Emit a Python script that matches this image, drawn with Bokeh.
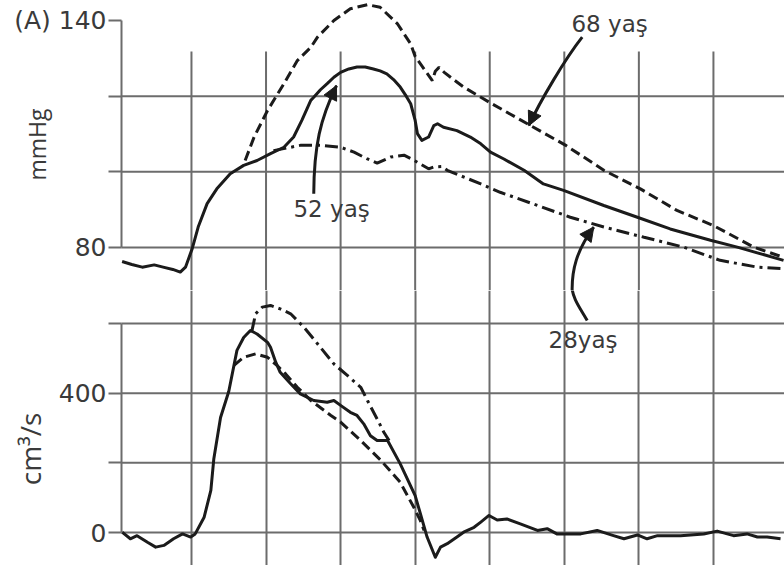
import math
from bokeh.plotting import figure
from bokeh.layouts import column
from bokeh.models import FixedTicker, Range1d, Label, Arrow, NormalHead
from bokeh.embed import file_html
from bokeh.resources import INLINE

# ---------------- data (time in ms) ----------------
GRID_T = [100, 200, 300, 400, 500, 600, 700, 800]
P_TICKS = [80, 100, 120, 140]
P_GRID = [80, 100, 120]
Q_TICKS = [0, 200, 400, 600]

# pressure, 52 years (solid)
T_P52 = [7, 20, 34, 50, 62, 75, 85, 92, 101, 109, 121, 134, 152, 170, 188, 206, 224, 237, 248, 260,
         264, 273, 282, 291, 300, 311, 322, 333, 344, 353, 362, 371, 380, 388, 394, 400, 403, 409, 418, 425,
         430, 438, 456, 474, 488, 501, 519, 546, 572, 599, 653, 698, 742, 796, 832, 894]
P_52 = [76.3, 75.5, 74.8, 75.4, 74.8, 74.2, 73.5, 74.8, 79.7, 85.4, 91.6, 95.5, 99.5, 101.7, 103.0, 104.8, 106.5, 109.2, 113.6, 118.9,
        119.7, 121.7, 123.3, 125.0, 126.3, 127.2, 127.7, 127.7, 127.2, 126.7, 125.9, 124.4, 122.4, 120.0, 118.0, 113.6, 110.1, 108.3, 109.2, 112.2,
        112.7, 111.8, 110.9, 109.2, 107.4, 105.2, 103.4, 100.4, 96.8, 95.1, 91.1, 88.0, 84.9, 81.9, 80.1, 76.6]

# pressure, 68 years (dashed)
T_P68 = [172, 184, 202, 224, 242, 260, 269, 291, 313, 336, 353, 376, 394, 400, 423, 427, 432, 439, 450, 465,
         501, 555, 602, 653, 702, 751, 800, 854, 894]
P_68 = [103.0, 109.2, 116.2, 123.3, 129.4, 132.9, 135.6, 140.0, 143.1, 144.2, 143.5, 139.2, 133.8, 130.5, 124.1, 126.6, 127.6, 126.3, 124.6, 122.4,
        118.2, 112.2, 107.0, 100.4, 95.5, 89.8, 85.8, 80.1, 77.4]

# pressure, 28 years (dash-dot)
T_P28 = [210, 246, 273, 300, 318, 336, 349, 367, 385, 398, 418, 425, 436, 443, 488, 514, 564, 608, 653, 707, 760, 809, 859, 894]
P_28 = [105.6, 107.0, 107.0, 106.5, 105.2, 103.4, 102.3, 103.9, 104.4, 103.1, 100.8, 101.3, 101.4, 100.4, 96.8, 94.6, 91.1, 88.0, 85.4, 82.7,
        80.1, 76.6, 74.8, 74.4]

# flow, 52 years (solid)
T_Q52 = [7, 18, 27, 41, 52, 63, 76, 88, 99, 105, 117, 126, 130, 139, 150, 161, 170, 179, 188, 202,
         206, 213, 219, 233, 246, 264, 282, 291, 300, 313, 322, 331, 340, 349, 363, 380, 400, 407, 416, 427,
         434, 443, 456, 465, 479, 488, 499, 510, 523, 541, 564, 577, 590, 622, 644, 666, 680, 698, 711, 725,
         756, 787, 805, 827, 845, 859, 872, 890]
Q_52 = [1, -18, -9, -28, -42, -37, -18, -4, -13, -4, 44, 121, 212, 330, 405, 523, 560, 580, 570, 546,
        532, 489, 460, 427, 398, 379, 374, 379, 365, 345, 336, 312, 278, 264, 264, 197, 106, 54, -13, -71,
        -42, -32, -13, 1, 15, 30, 49, 36, 39, 25, 6, 11, -4, -4, 6, -9, -18, -7, -18, -9,
        -9, -4, 4, -9, -4, -13, -13, -18]

# flow, 68 years (dashed)
T_Q68 = [157, 170, 186, 202, 215, 226, 242, 260, 287, 300, 327, 354, 380, 398, 407, 412]
Q_68 = [480, 503, 513, 503, 479, 456, 417, 379, 336, 317, 264, 207, 144, 73, 34, 6]

# flow, 28 years (dash-dot)
T_Q28 = [181, 186, 195, 206, 219, 233, 251, 269, 291, 309, 327, 336, 349, 358, 365]
Q_28 = [578, 628, 647, 652, 642, 628, 589, 542, 484, 451, 417, 379, 326, 288, 264]

# ---------------- style ----------------
FONT = "DejaVu Sans"
FONT2 = "Open Sans"
TXT = "#3a3a3a"
GRID = "#6c6c6c"
INK = "#1b1b1b"
DASH = "10 5"
DASHDOT = "13 5 3 5"
W = 784
X_RANGE = (-156.1, 895.3)
AXIS_T = 6.17


def make_panel(height, yr, ticks, overrides, bounds, hlines):
    p = figure(width=W, height=height, x_range=Range1d(*X_RANGE), y_range=Range1d(*yr),
               output_backend="svg", toolbar_location=None, x_axis_location=None,
               min_border_left=0, min_border_right=0, min_border_top=0, min_border_bottom=0)
    p.outline_line_color = None
    p.background_fill_color = "white"
    p.border_fill_color = "white"
    ax = p.yaxis[0]
    ax.fixed_location = AXIS_T
    ax.ticker = FixedTicker(ticks=ticks)
    ax.major_label_overrides = overrides
    ax.bounds = bounds
    ax.major_tick_out = 13
    ax.major_tick_in = 0
    ax.minor_tick_line_color = None
    ax.axis_line_color = GRID
    ax.axis_line_width = 2
    ax.major_tick_line_color = GRID
    ax.major_tick_line_width = 2
    ax.major_label_text_font = FONT
    ax.major_label_text_font_size = "25px"
    ax.major_label_text_color = TXT
    ax.major_label_standoff = 2
    p.ygrid.visible = False
    p.segment(x0=[AXIS_T] * len(hlines), y0=hlines, x1=[X_RANGE[1]] * len(hlines), y1=hlines,
              line_color=GRID, line_width=2)
    p.xgrid.ticker = FixedTicker(ticks=GRID_T)
    p.xgrid.grid_line_color = GRID
    p.xgrid.grid_line_width = 2
    return p


def arrow_head(p, xs, ys, xe, ye):
    p.add_layout(Arrow(end=NormalHead(size=14, fill_color=INK, line_color=INK), line_color=INK, line_width=3,
                       x_start=xs, y_start=ys, x_end=xe, y_end=ye))


# ---------------- top panel: pressure ----------------
P_RANGE = (68.63, 145.29)
GRID_TOP = 131.8
top = make_panel(290, P_RANGE, P_TICKS, {100: "", 120: "", 140: "(A) 140"}, (80, 140), P_GRID)
top.xgrid.visible = False
top.segment(x0=GRID_T, y0=[GRID_TOP] * len(GRID_T), x1=GRID_T, y1=[P_RANGE[0]] * len(GRID_T),
            line_color=GRID, line_width=2)

top.line(T_P68, P_68, line_color=INK, line_width=3, line_dash=DASH)
top.line(T_P28, P_28, line_color=INK, line_width=3, line_dash=DASHDOT)
top.line(T_P52, P_52, line_color=INK, line_width=3, line_join="round")

top.add_layout(Label(x=-106.5, y=107.2, text="mmHg", angle=math.pi / 2, text_align="center",
                     text_baseline="alphabetic", text_font=FONT2, text_font_size="23px", text_color=TXT))
top.add_layout(Label(x=609.6, y=139.0, text="68 yaş", text_align="left", text_baseline="alphabetic",
                     text_font=FONT, text_font_size="23px", text_color=TXT))
top.add_layout(Label(x=236.8, y=90.1, text="52 yaş", text_align="left", text_baseline="alphabetic",
                     text_font=FONT, text_font_size="23px", text_color=TXT))

# arrows (curved body + head)
top.bezier(x0=[624.0], y0=[135.6], x1=[552.4], y1=[112.2], cx0=[601.6], cy0=[130.0], cx1=[568.0], cy1=[118.9],
           line_color=INK, line_width=3)
arrow_head(top, 559.2, 115.1, 552.4, 112.2)
top.bezier(x0=[264.0], y0=[94.2], x1=[294.5], y1=[122.8], cx0=[264.3], cy0=[107.0], cx1=[273.0], cy1=[114.1],
           line_color=INK, line_width=3)
arrow_head(top, 287.5, 120.0, 294.5, 122.8)
top.bezier(x0=[610.6], y0=[68.1], x1=[639.5], y1=[85.4], cx0=[609.6], cy0=[73.9], cx1=[616.3], cy1=[79.2],
           line_color=INK, line_width=3)
arrow_head(top, 629.9, 82.8, 639.5, 85.4)

# ---------------- bottom panel: flow ----------------
Q_RANGE = (-94.7, 694.8)
bot = make_panel(275, Q_RANGE, Q_TICKS, {200: "", 600: ""}, (0, 600), Q_TICKS)

bot.line(T_Q68, Q_68, line_color=INK, line_width=3, line_dash=DASH)
bot.line(T_Q28, Q_28, line_color=INK, line_width=3, line_dash=DASHDOT)
bot.line(T_Q52, Q_52, line_color=INK, line_width=3, line_join="round")

bot.add_layout(Label(x=-117.2, y=240, text="cm³/s", angle=math.pi / 2, text_align="center",
                     text_baseline="alphabetic", text_font=FONT2, text_font_size="28px", text_color=TXT))
bot.add_layout(Label(x=578.9, y=553, text="28yaş", text_align="left", text_baseline="alphabetic",
                     text_font=FONT, text_font_size="23px", text_color=TXT))
bot.bezier(x0=[630.7], y0=[608.7], x1=[610.1], y1=[706.3], cx0=[621.7], cy0=[643.1], cx1=[611.0], cy1=[671.8],
           line_color=INK, line_width=3)

layout = column(top, bot, spacing=0)
open("out.html", "w").write(file_html(layout, INLINE))
